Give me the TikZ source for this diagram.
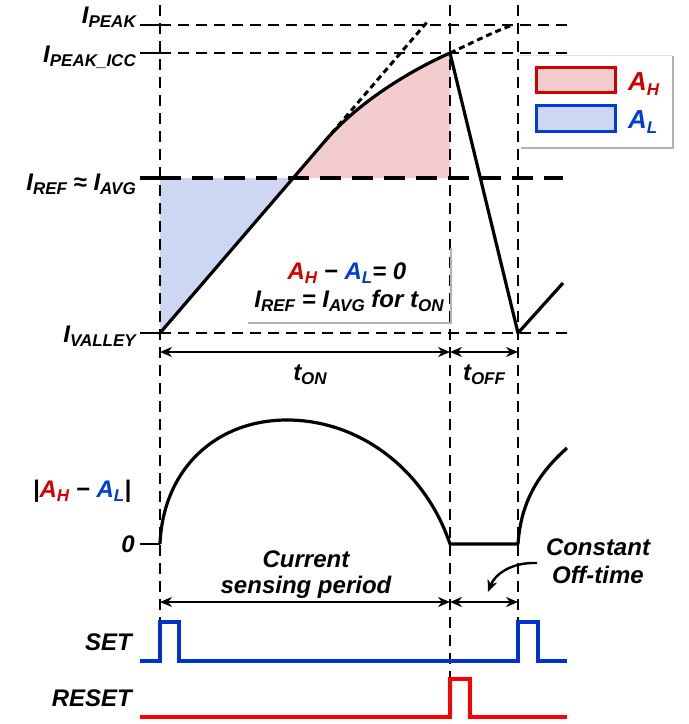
\documentclass[tikz,border=0pt]{standalone}
\usepackage{fontspec}
\setmainfont{Liberation Sans}
\usetikzlibrary{arrows.meta}
\definecolor{cred}{RGB}{210,0,0}
\definecolor{cblue}{RGB}{0,60,215}
\definecolor{fillred}{RGB}{243,205,205}
\definecolor{fillblue}{RGB}{205,215,242}
\definecolor{setblue}{RGB}{0,51,204}
\definecolor{resetred}{RGB}{255,0,0}
\newcommand\sbs[1]{\raisebox{-0.2em}{\fontsize{17}{17}\selectfont #1}}
\begin{document}
\begin{tikzpicture}[x=1pt,y=-1pt,
  lbl/.style={font=\fontsize{24}{28}\selectfont\bfseries\itshape, inner sep=0pt},
  lgd/.style={font=\fontsize{26}{30}\selectfont\bfseries\itshape, inner sep=0pt},
  wave/.style={line width=3.2pt, line join=round},
  guide/.style={line width=1.8pt, dash pattern=on 11pt off 7pt},
  refdash/.style={line width=3.4pt, dash pattern=on 21pt off 11pt},
  dotl/.style={line width=3pt, dash pattern=on 6pt off 4pt},
  tick/.style={line width=2pt},
  dim/.style={line width=2.4pt, {Stealth[length=12pt,width=10pt]}-{Stealth[length=12pt,width=10pt]}},
  sig/.style={line width=3.2pt, line join=miter}
]
\useasboundingbox (0,0) rectangle (689,724);

% key points
\coordinate (V0) at (160,333);
\coordinate (X)  at (293,178);
\coordinate (B)  at (325,141);
\coordinate (P)  at (450,53);
\coordinate (V1) at (518,333);
\coordinate (E)  at (563,283);
\coordinate (R0) at (160,178);
\coordinate (RP) at (450,178);

% filled areas
\fill[fillblue] (R0) -- (X) -- (V0) -- cycle;
\fill[fillred] (X) -- (B) .. controls (361,99) and (416,68) .. (P) -- (RP) -- cycle;

% legend box
\fill[white] (518,55) rectangle (672,147);
\draw[gray!25, line width=1pt] (518,55) -- (672,55);
\draw[gray!60, line width=2pt] (673,56) -- (673,148) -- (521,148);
\draw[cred, fill=fillred, line width=3pt] (536,67) rectangle (615,92);
\draw[cblue, fill=fillblue, line width=3pt] (536,105) rectangle (615,131);
\node[lgd, text=cred, anchor=base west] (lah) at (628,90) {A\sbs{H}};
\node[lgd, text=cblue, anchor=base west] (lal) at (628,128) {A\sbs{L}};

% vertical guides
\draw[guide] (160,5) -- (160,622);
\draw[guide] (450,5) -- (450,679);
\draw[guide] (518,5) -- (518,622);

% horizontal guides and ticks
\draw[tick] (140,25) -- (160,25);
\draw[guide] (160,25) -- (573,25);
\draw[tick] (140,53) -- (160,53);
\draw[guide] (160,53) -- (573,53);
\draw[line width=3.4pt] (140,178) -- (160,178);
\draw[refdash] (160,178) -- (563,178);
\draw[tick] (140,333) -- (160,333);
\draw[guide] (160,333) -- (573,333);

% left labels
\node[lbl, anchor=base east] (lpk) at (136,23) {I\sbs{PEAK}};
\node[lbl, anchor=base east] (lpki) at (136,62) {I\sbs{PEAK\_ICC}};
\node[lbl, anchor=base east] (lref) at (136,190) {I\sbs{REF} ≈ I\sbs{AVG}};
\node[lbl, anchor=base east] (lval) at (136,342) {I\sbs{VALLEY}};

% text box
\draw[gray!60, line width=1.5pt] (248,323) -- (451,323) -- (451,248);
\node[lbl, anchor=base] (eq1) at (347,279) {\textcolor{cred}{A\sbs{H}} − \textcolor{cblue}{A\sbs{L}}= 0};
\node[lbl, anchor=base] (eq2) at (349,307) {I\sbs{REF} = I\sbs{AVG} for t\sbs{ON}};

% dotted extensions
\draw[dotl] (B) -- (428,21);
\draw[dotl] (P) .. controls (474,42) and (495,31) .. (513,25);

% inductor current
\draw[wave] (V0) -- (B) .. controls (361,99) and (416,68) .. (P) -- (V1) -- (E);

% dimension arrows (top)
\draw[dim] (160,352) -- (450,352);
\draw[dim] (450,352) -- (518,352);
\node[lbl, anchor=base] (ton) at (310,380) {t\sbs{ON}};
\node[lbl, anchor=base] (toff) at (484,380) {t\sbs{OFF}};

% |AH - AL| graph
\node[lbl, anchor=base] (lab) at (82,497) {|\textcolor{cred}{A\sbs{H}} − \textcolor{cblue}{A\sbs{L}}|};
\node[lbl, anchor=base east] (lzero) at (135,552) {0};
\draw[tick] (140,544) -- (160,544);
\draw[wave] (160,544) .. controls (163,470) and (215,420) .. (287,420)
  .. controls (360,420) and (425,470) .. (450,544) -- (518,544)
  .. controls (521,500) and (540,472) .. (567,448);

\node[lbl, anchor=base] (cur1) at (306,567) {Current};
\node[lbl, anchor=base] (cur2) at (306,593) {sensing period};
\node[lbl, anchor=base] (con1) at (598,555) {Constant};
\node[lbl, anchor=base] (con2) at (598,583) {Off-time};
\draw[line width=2.4pt, -{Stealth[length=12pt,width=10pt]}] (537,563) .. controls (512,562) and (495,574) .. (488,592);

% dimension arrows (bottom)
\draw[dim] (160,602) -- (450,602);
\draw[dim] (450,602) -- (518,602);

% SET / RESET
\node[lbl, anchor=base east] (lset) at (132,650) {SET};
\node[lbl, anchor=base east] (lreset) at (132,706) {RESET};
\draw[sig, setblue] (140,661) -- (160,661) -- (160,622) -- (179,622) -- (179,661)
  -- (518,661) -- (518,622) -- (538,622) -- (538,661) -- (567,661);
\draw[sig, resetred] (140,717) -- (450,717) -- (450,679) -- (470,679) -- (470,717) -- (567,717);
\end{tikzpicture}
\end{document}
